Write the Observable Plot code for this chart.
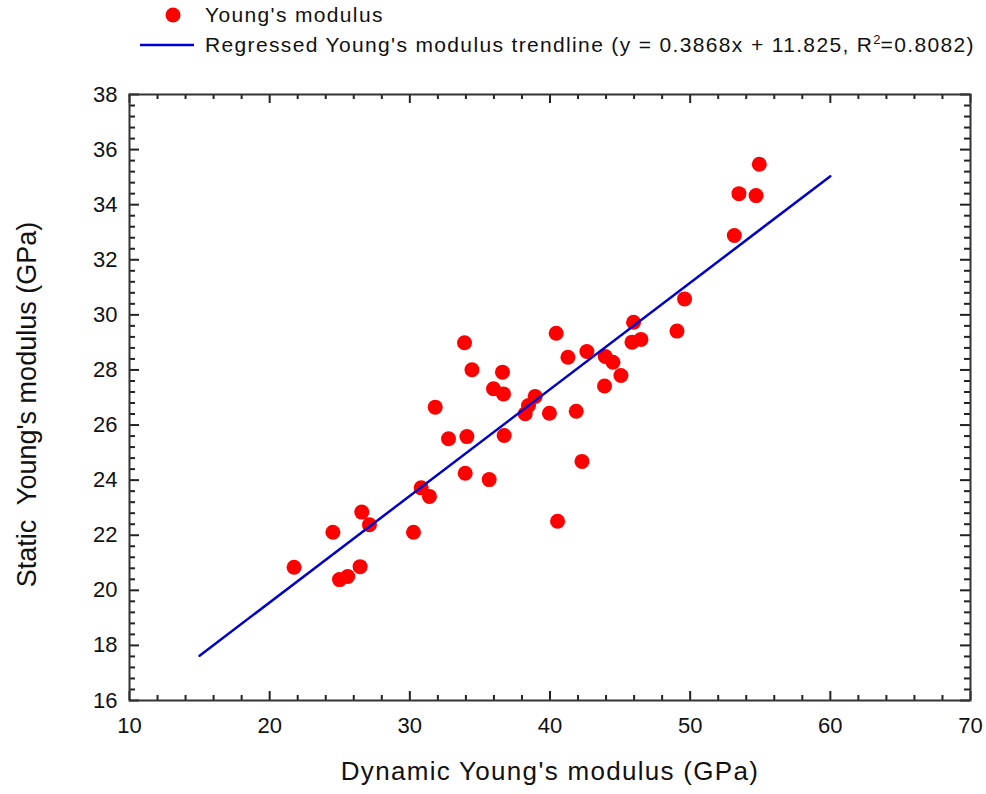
<!DOCTYPE html>
<html>
<head>
<meta charset="utf-8">
<script src="https://cdn.jsdelivr.net/npm/d3@7"></script>
<script src="https://cdn.jsdelivr.net/npm/@observablehq/plot@0.6"></script>
<style>
  html, body { margin: 0; padding: 0; background: #fff; }
  body { width: 986px; height: 794px; overflow: hidden; font-family: "Liberation Sans", Arial, sans-serif; }
  #legend { position: relative; height: 48px; }
  #legend .item { position: absolute; left: 140px; height: 26px; display: flex; align-items: center; font-size: 21px; letter-spacing: 1.35px; color: #111; }
  #legend .item span { white-space: nowrap; line-height: 26px; }
  #legend sup { font-size: 13px; line-height: 0; vertical-align: 0; position: relative; top: -8px; letter-spacing: 0; }
  #legend svg { margin-right: 11px; flex: none; }
  #chart .title text { letter-spacing: 1.3px; }
</style>
</head>
<body>
<div id="legend"></div>
<div id="chart"></div>
<script>
// Dynamic (x) and static (y) Young's modulus measurements, GPa
const dynamicE = [21.74, 24.51, 24.98, 25.57, 26.45, 26.57, 27.12, 30.26, 30.81, 31.40,
  31.81, 32.76, 33.90, 33.95, 34.07, 34.43, 35.66, 35.97, 36.61, 36.68,
  36.73, 38.23, 38.47, 38.94, 39.96, 40.44, 40.54, 41.28, 41.87, 42.28,
  42.63, 43.89, 43.94, 44.49, 45.06, 45.85, 45.96, 46.49, 49.06, 49.60,
  53.15, 53.48, 54.70, 54.93];
const staticE = [20.84, 22.11, 20.39, 20.50, 20.86, 22.84, 22.38, 22.11, 23.72, 23.41,
  26.65, 25.50, 28.99, 24.25, 25.58, 28.01, 24.02, 27.32, 27.92, 27.13,
  25.62, 26.41, 26.71, 27.04, 26.43, 29.33, 22.51, 28.46, 26.50, 24.68,
  28.67, 27.42, 28.49, 28.28, 27.80, 29.01, 29.73, 29.11, 29.41, 30.58,
  32.88, 34.40, 34.33, 35.47];

// Fitted trendline y = slope * x + intercept, drawn over this x range
const slope = 0.3868;
const intercept = 11.825;
const rSquared = 0.8082;
const trendRange = [15, 60];

// Axis ticks
const xTicks = [10, 20, 30, 40, 50, 60, 70];
const xMinorTicks = [12, 14, 16, 18, 22, 24, 26, 28, 32, 34, 36, 38, 42, 44, 46, 48, 52, 54, 56, 58, 62, 64, 66, 68];
const yTicks = [16, 18, 20, 22, 24, 26, 28, 30, 32, 34, 36, 38];
const yMinorTicks = [16.4, 16.8, 17.2, 17.6, 18.4, 18.8, 19.2, 19.6, 20.4, 20.8, 21.2, 21.6,
  22.4, 22.8, 23.2, 23.6, 24.4, 24.8, 25.2, 25.6, 26.4, 26.8, 27.2, 27.6,
  28.4, 28.8, 29.2, 29.6, 30.4, 30.8, 31.2, 31.6, 32.4, 32.8, 33.2, 33.6,
  34.4, 34.8, 35.2, 35.6, 36.4, 36.8, 37.2, 37.6];

const xLabel = "Dynamic Young's modulus (GPa)";
const yLabel = "Static\u00a0 Young's modulus (GPa)";
const pointName = "Young's modulus";
const trendName = "Regressed Young's modulus trendline";

const points = dynamicE.map((x, i) => ({x, y: staticE[i]}));
const trend = trendRange.map(x => ({x, y: slope * x + intercept}));

const W = 986, H = 746;
const mL = 129, mR = 16, mT = 46, mB = 94;
const fw = W - mL - mR, fh = H - mT - mB;
const ink = "#222";
const red = "#ff0000";
const blue = "#0000cc";

// Legend
const legend = document.getElementById("legend");
legend.innerHTML =
  `<div class="item" style="top:2px"><svg width="54" height="20"><circle cx="33" cy="10" r="7.5" fill="${red}"/></svg><span>${pointName}</span></div>` +
  `<div class="item" style="top:32px"><svg width="54" height="20"><line x1="0" x2="54" y1="10" y2="10" stroke="${blue}" stroke-width="2.5"/></svg><span>${trendName} (y = ${slope}x + ${intercept}, R<sup>2</sup>=${rSquared})</span></div>`;

const chart = Plot.plot({
  width: W,
  height: H,
  marginLeft: mL,
  marginRight: mR,
  marginTop: mT,
  marginBottom: mB,
  style: {fontFamily: "'Liberation Sans', Arial, sans-serif", fontSize: "22px", color: "#111", background: "#fff"},
  x: {domain: [10, 70]},
  y: {domain: [16, 38]},
  marks: [
    // inward ticks on all four sides
    Plot.tickX(xTicks, {x: d => d, insetTop: fh - 9, stroke: ink, strokeWidth: 2}),
    Plot.tickX(xTicks, {x: d => d, insetBottom: fh - 9, stroke: ink, strokeWidth: 2}),
    Plot.tickX(xMinorTicks, {x: d => d, insetTop: fh - 5, stroke: ink, strokeWidth: 2}),
    Plot.tickX(xMinorTicks, {x: d => d, insetBottom: fh - 5, stroke: ink, strokeWidth: 2}),
    Plot.tickY(yTicks, {y: d => d, insetRight: fw - 10, stroke: ink, strokeWidth: 2}),
    Plot.tickY(yTicks, {y: d => d, insetLeft: fw - 10, stroke: ink, strokeWidth: 2}),
    Plot.tickY(yMinorTicks, {y: d => d, insetRight: fw - 6, stroke: ink, strokeWidth: 2}),
    Plot.tickY(yMinorTicks, {y: d => d, insetLeft: fw - 6, stroke: ink, strokeWidth: 2}),
    Plot.axisX({ticks: xTicks, tickSize: 0, tickPadding: 17, label: null, fontSize: 22}),
    Plot.axisY({ticks: yTicks, tickSize: 0, tickPadding: 12, label: null, fontSize: 22}),
    Plot.frame({stroke: "#333", strokeWidth: 2}),
    Plot.dot(points, {x: "x", y: "y", r: 7.5, fill: red}),
    Plot.line(trend, {x: "x", y: "y", stroke: blue, strokeWidth: 2.5}),
    Plot.text([xLabel], {text: d => d, frameAnchor: "bottom", dy: 79, fontSize: 26, fill: "#111", className: "title"}),
    Plot.text([yLabel], {text: d => d, frameAnchor: "left", textAnchor: "middle", dx: -102, dy: 7, rotate: -90, fontSize: 27, fill: "#111"})
  ]
});
document.getElementById("chart").appendChild(chart);
</script>
</body>
</html>
